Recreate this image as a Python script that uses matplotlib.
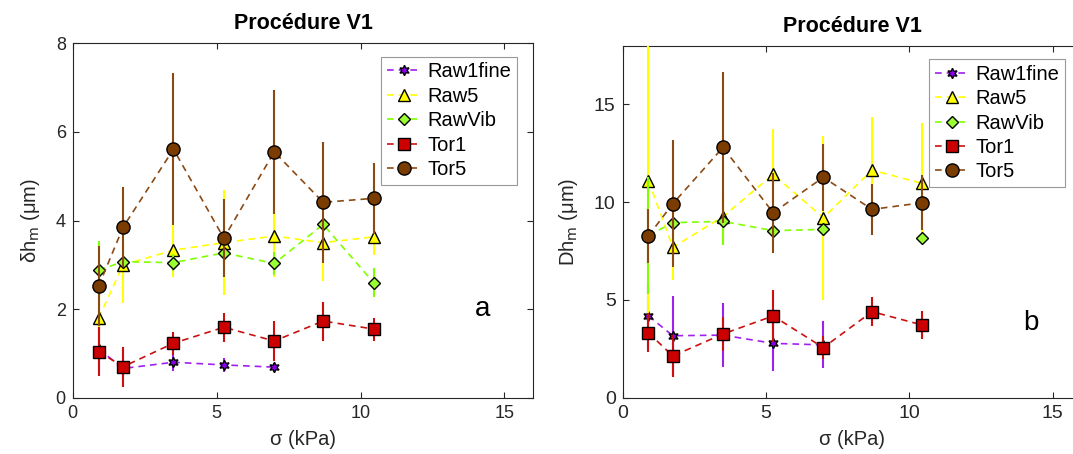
import numpy as np
import matplotlib
matplotlib.use("Agg")
import matplotlib.pyplot as plt

plt.rcParams["font.family"] = ["Liberation Sans", "DejaVu Sans"]

# sigma (kPa)
sigma = [0.9, 1.75, 3.5, 5.25, 7.0, 8.7, 10.45]
names = ["Raw1fine", "Raw5", "RawVib", "Tor1", "Tor5"]

# panel a : delta h_m (um)
raw1fine_a = [1.1, 0.66, 0.8, 0.74, 0.69]
raw1fine_a_err = [0.55, 0.2, 0.2, 0.15, 0.1]
raw5_a = [1.8, 3.0, 3.33, 3.5, 3.65, 3.5, 3.63]
raw5_a_err = [1.0, 0.86, 0.6, 1.18, 0.93, 0.87, 0.4]
rawvib_a = [2.88, 3.07, 3.05, 3.27, 3.03, 3.91, 2.6]
rawvib_a_err = [0.66, 0.15, 0.2, 0.25, 0.25, 0.15, 0.33]
tor1_a = [1.04, 0.7, 1.23, 1.59, 1.28, 1.73, 1.55]
tor1_a_err = [0.55, 0.45, 0.26, 0.33, 0.45, 0.44, 0.26]
tor5_a = [2.52, 3.85, 5.61, 3.6, 5.55, 4.41, 4.5]
tor5_a_err = [0.9, 0.9, 1.71, 0.88, 1.4, 1.37, 0.8]

# panel b : Dh_m (um)
raw1fine_b = [4.18, 3.17, 3.2, 2.78, 2.7]
raw1fine_b_err = [1.7, 2.05, 1.65, 1.4, 1.2]
raw5_b = [11.1, 7.69, 9.26, 11.42, 9.2, 11.64, 10.96]
raw5_b_err = [7.5, 1.68, 1.3, 2.3, 4.2, 2.7, 3.07]
rawvib_b = [8.3, 8.95, 9.02, 8.54, 8.61, np.nan, 8.15]
rawvib_b_err = [3.0, 0.3, 1.2, 0.3, 0.3, np.nan, 0.2]
tor1_b = [3.32, 2.13, 3.26, 4.18, 2.56, 4.4, 3.72]
tor1_b_err = [1.0, 1.06, 0.85, 1.33, 0.6, 0.75, 0.7]
tor5_b = [8.28, 9.92, 12.8, 9.46, 11.27, 9.63, 9.97]
tor5_b_err = [1.37, 3.25, 3.87, 2.05, 1.7, 1.3, 1.4]

line_cols = ["#a020f0", "#ffff00", "#80ff00", "#cc1010", "#8b4a14"]
face_cols = ["#8a00e6", "#ffff00", "#99ff33", "#cc0000", "#7a3c00"]
markers = [(6, 1, 0), "^", "D", "s", "o"]
msizes = [7.5, 8, 6.5, 9, 9.5]

fig = plt.figure(figsize=(10.73, 4.54), dpi=100)
ax1 = fig.add_axes([0.0678, 0.124, 0.4292, 0.7806])
ax2 = fig.add_axes([0.5803, 0.124, 0.4274, 0.7753])


def draw(ax, ys, errs, ylim, yticks, ylabel, letter, ly, tsize, ypad):
    for i in range(5):
        x = sigma[:len(ys[i])]
        ax.errorbar(x, ys[i], yerr=errs[i], fmt="none", ecolor=line_cols[i],
                    elinewidth=1.5, capsize=0, zorder=2 + i)
        ax.plot(x, ys[i], ls="--", dashes=(4, 3), lw=1.2, color=line_cols[i],
                marker=markers[i], ms=msizes[i], mfc=face_cols[i], mec="k",
                mew=1.0, label=names[i], zorder=2 + i)
    ax.set_xlim(0, 16)
    ax.set_ylim(*ylim)
    ax.set_xticks([0, 5, 10, 15])
    ax.set_yticks(yticks)
    ax.tick_params(direction="in", top=True, right=True, labelsize=tsize,
                   colors="#262626", length=4, pad=5)
    for s in ax.spines.values():
        s.set_color("#262626")
        s.set_linewidth(0.8)
    ax.set_xlabel("σ (kPa)", fontsize=14.5, color="#262626", labelpad=6)
    ax.set_ylabel(ylabel, fontsize=14.5, color="#262626", labelpad=ypad)
    ax.set_title("Procédure V1", fontsize=15.5, fontweight="bold", pad=10)
    ax.text(14.25, ly, letter, fontsize=20, ha="center", va="center")
    leg = ax.legend(loc="upper right", bbox_to_anchor=(0.964, 0.962),
                    borderaxespad=0, fancybox=False, framealpha=1,
                    edgecolor="#999999", fontsize=14.5, handlelength=1.7,
                    handletextpad=0.3, labelspacing=0.27, borderpad=0.28)
    leg.get_frame().set_linewidth(0.8)


draw(ax1,
     [raw1fine_a, raw5_a, rawvib_a, tor1_a, tor5_a],
     [raw1fine_a_err, raw5_a_err, rawvib_a_err, tor1_a_err, tor5_a_err],
     (0, 8), [0, 2, 4, 6, 8], r"δh$_{\rm m}$ (μm)", "a", 2.0, 13, 10)
draw(ax2,
     [raw1fine_b, raw5_b, rawvib_b, tor1_b, tor5_b],
     [raw1fine_b_err, raw5_b_err, rawvib_b_err, tor1_b_err, tor5_b_err],
     (0, 18), [0, 5, 10, 15], r"Dh$_{\rm m}$ (μm)", "b", 3.8, 14, 10)

fig.savefig("out.png", dpi=100)
